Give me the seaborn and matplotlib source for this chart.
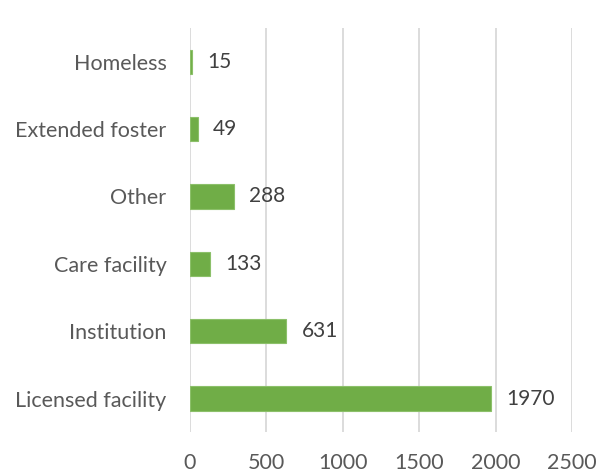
import matplotlib
matplotlib.use("Agg")
import matplotlib.pyplot as plt
import seaborn as sns
import pandas as pd

# data
categories = ["Homeless", "Extended foster", "Other", "Care facility",
              "Institution", "Licensed facility"]
counts = [15, 49, 288, 133, 631, 1970]
x_ticks = [0, 500, 1000, 1500, 2000, 2500]

df = pd.DataFrame({"category": categories, "count": counts})

sns.set_theme(style="white")
plt.rcParams["font.family"] = ["Lato", "DejaVu Sans"]

fig = plt.figure(figsize=(6.13, 4.76), dpi=100)
ax = fig.add_axes([0.31, 0.092, 0.623, 0.849])

sns.barplot(data=df, x="count", y="category", order=categories,
            color="#70AD47", saturation=1, width=0.36,
            edgecolor="#8CC06A", linewidth=0.8, ax=ax)

ax.bar_label(ax.containers[0], padding=11, fontsize=15, color="#404040")

ax.set_xlim(0, 2500)
ax.set_xticks(x_ticks)
ax.set_xticklabels([str(t) for t in x_ticks])
ax.set_ylim(len(categories) - 0.5, -0.5)
ax.xaxis.grid(True, color="#D9D9D9", linewidth=1.3)
ax.set_axisbelow(True)
for s in ax.spines.values():
    s.set_visible(False)
ax.set_xlabel("")
ax.set_ylabel("")
ax.tick_params(axis="both", length=0, labelsize=15.5, colors="#595959")
ax.tick_params(axis="x", pad=15)
ax.tick_params(axis="y", pad=17)

fig.savefig("out.png", dpi=100)
